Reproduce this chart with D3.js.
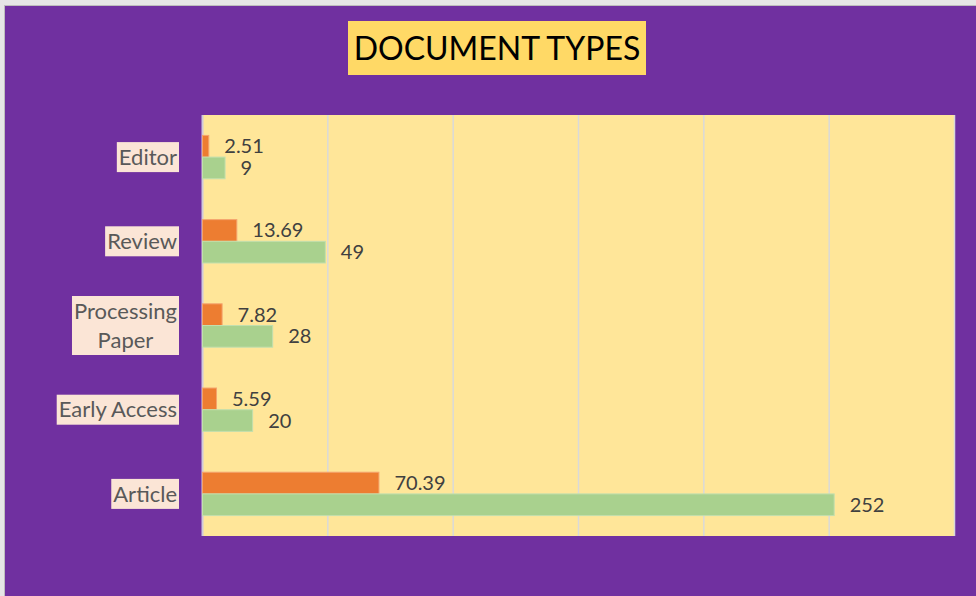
<!DOCTYPE html>
<html>
<head>
<meta charset="utf-8">
<script src="https://cdn.jsdelivr.net/npm/d3@7"></script>
<style>
  html, body { margin: 0; padding: 0; background: #E4E4E4; }
  svg { display: block; }
</style>
</head>
<body>
<svg id="chart" width="976" height="596"></svg>
<script>
const categories = ["Editor", "Review", "Processing Paper", "Early Access", "Article"];
const percentValues = [2.51, 13.69, 7.82, 5.59, 70.39];
const countValues = [9, 49, 28, 20, 252];
const xTicks = [0, 50, 100, 150, 200, 250, 300];
const titleText = "DOCUMENT TYPES";

const svg = d3.select("#chart");
const W = 976, H = 596;

// outer frame
svg.append("rect").attr("x", 0).attr("y", 0).attr("width", W).attr("height", H).attr("fill", "#E6E6E6");
svg.append("rect").attr("x", 4.5).attr("y", 5.5).attr("width", W).attr("height", H)
  .attr("fill", "#7030A0").attr("stroke", "#BDBDBD").attr("stroke-width", 1);

const plot = { left: 202, right: 954, top: 115, bottom: 536 };

const x = d3.scaleLinear().domain([0, 300]).range([plot.left, plot.right]);
const y = d3.scaleBand().domain(categories).range([plot.top, plot.bottom])
  .paddingInner(0.485).paddingOuter(0.2425);
const ySub = d3.scaleBand().domain(["pct", "count"]).range([0, y.bandwidth()]);

// plot background
svg.append("rect").attr("x", plot.left).attr("y", plot.top)
  .attr("width", plot.right - plot.left).attr("height", plot.bottom - plot.top)
  .attr("fill", "#FFE699");

// gridlines via axis
const xAxis = d3.axisBottom(x).tickValues(xTicks).tickSize(-(plot.bottom - plot.top)).tickFormat("");
const gx = svg.append("g").attr("transform", `translate(0,${plot.bottom})`).call(xAxis);
gx.select(".domain").remove();
gx.selectAll(".tick line").attr("stroke", "#D9D9D9").attr("stroke-width", 1.5);
gx.selectAll(".tick").filter(d => d === 0).select("line").attr("stroke", "#D0C8DC").attr("stroke-width", 2);

// data table
const rows = categories.map((c, i) => ({ cat: c, pct: percentValues[i], count: countValues[i] }));

const series = [
  { key: "pct", fill: "#ED7D31", stroke: "#F4A46E", fmt: d => d.toFixed(2) },
  { key: "count", fill: "#A9D18E", stroke: "#C2DFAE", fmt: d => String(d) }
];

series.forEach(s => {
  svg.append("g").selectAll("rect").data(rows).join("rect")
    .attr("x", x(0) + 0.5)
    .attr("y", d => y(d.cat) + ySub(s.key))
    .attr("width", d => x(d[s.key]) - x(0))
    .attr("height", ySub.bandwidth())
    .attr("fill", s.fill)
    .attr("stroke", s.stroke).attr("stroke-width", 1);
  svg.append("g").selectAll("text").data(rows).join("text")
    .attr("x", d => x(d[s.key]) + 16)
    .attr("y", d => y(d.cat) + ySub(s.key) + ySub.bandwidth() / 2)
    .attr("dy", "0.35em")
    .attr("font-family", "Lato, 'Open Sans', sans-serif")
    .attr("font-size", 20)
    .attr("fill", "#404040")
    .text(d => s.fmt(d[s.key]));
});

// category labels with background boxes
const labelRight = 179;
const lineH = 29;
categories.forEach(c => {
  const lines = c === "Processing Paper" ? ["Processing", "Paper"] : [c];
  const cy = y(c) + y.bandwidth() / 2;
  const g = svg.append("g");
  const bg = g.append("rect").attr("fill", "#FBE5D6");
  const t = g.append("text")
    .attr("font-family", "Lato, 'Open Sans', sans-serif")
    .attr("font-size", 22)
    .attr("fill", "#595959")
    .attr("text-anchor", "middle");
  lines.forEach((ln, i) => {
    t.append("tspan").attr("x", 0)
      .attr("y", (i - (lines.length - 1) / 2) * lineH)
      .attr("dy", "0.35em").text(ln);
  });
  const bb = t.node().getBBox();
  const padX = 2;
  const w = bb.width + padX * 2;
  const h = lines.length * lineH + 1;
  bg.attr("x", -w / 2).attr("y", -h / 2).attr("width", w).attr("height", h);
  g.attr("transform", `translate(${labelRight - w / 2},${cy})`);
});

// title
const tg = svg.append("g");
tg.append("rect").attr("x", 348).attr("y", 21).attr("width", 298).attr("height", 54).attr("fill", "#FFD966");
tg.append("text").attr("x", 497).attr("y", 49).attr("dy", "0.35em")
  .attr("text-anchor", "middle")
  .attr("font-family", "Lato, 'Open Sans', sans-serif")
  .attr("font-size", 32).attr("fill", "#000")
  .text(titleText);
</script>
</body>
</html>
